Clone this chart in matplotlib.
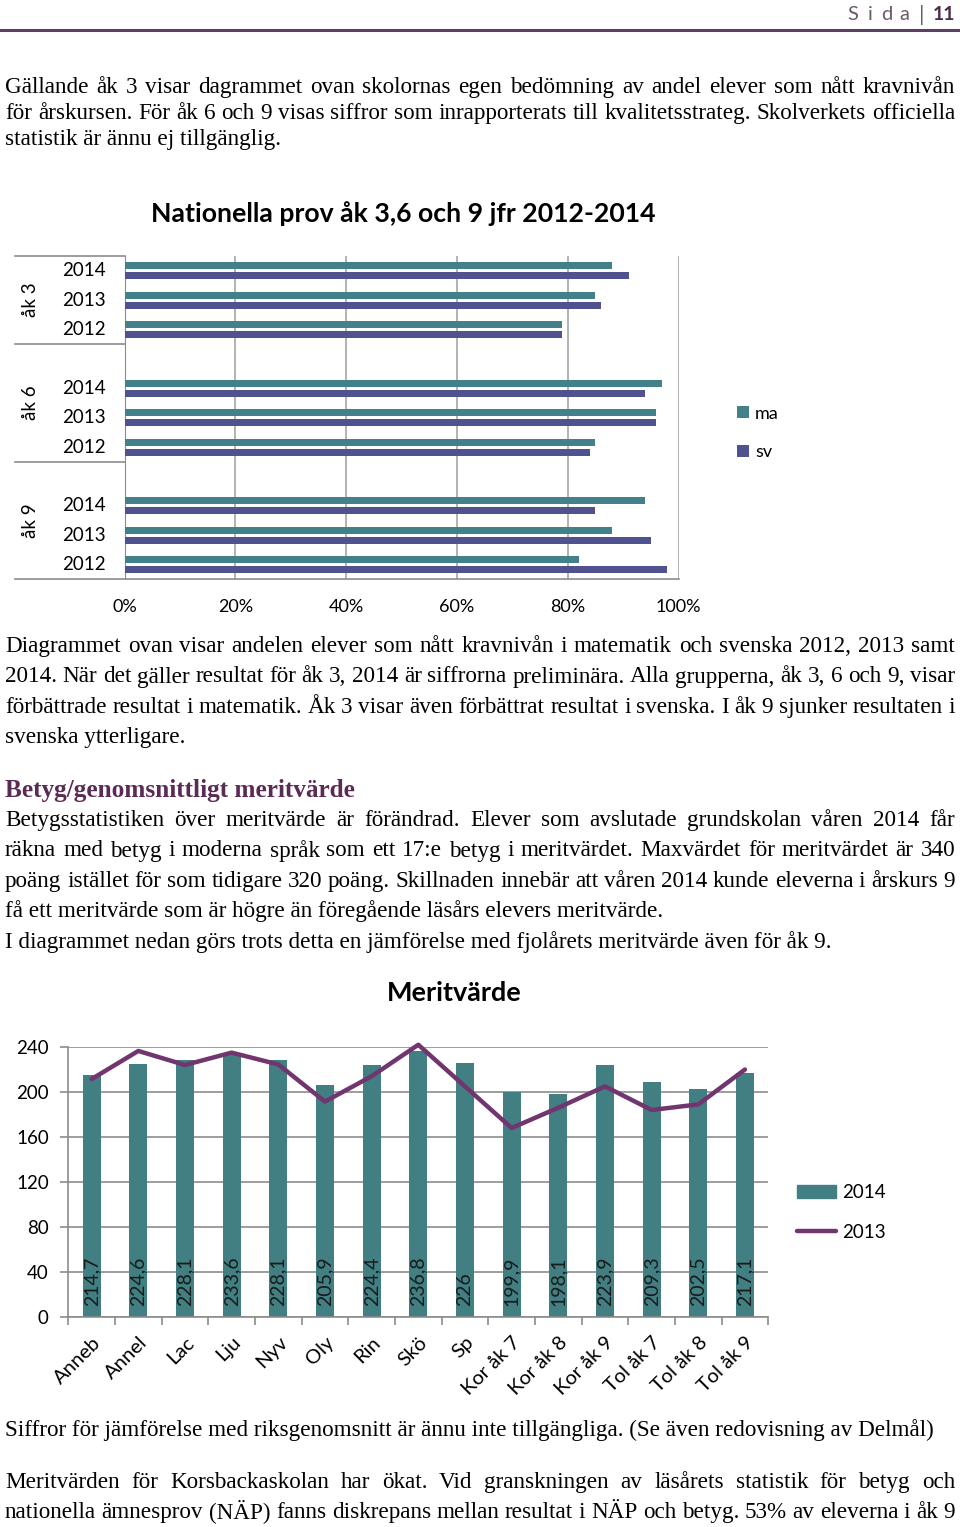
import matplotlib
matplotlib.use("Agg")
import matplotlib.pyplot as plt
import matplotlib.transforms as mtransforms
from matplotlib.patches import Patch
from matplotlib.lines import Line2D
import numpy as np

# --- data: top chart (share reaching required level, %) ---
groups = ['åk 3', 'åk 6', 'åk 9']
years = ['2014', '2013', '2012']
ma_ak3 = [88, 85, 79]
sv_ak3 = [91, 86, 79]
ma_ak6 = [97, 96, 85]
sv_ak6 = [94, 96, 84]
ma_ak9 = [94, 88, 82]
sv_ak9 = [85, 95, 98]
pct_ticks = [0, 20, 40, 60, 80, 100]

# --- data: bottom chart (meritvärde) ---
schools = ['Anneb', 'Annel', 'Lac', 'Lju', 'Nyv', 'Oly', 'Rin', 'Skö', 'Sp',
           'Kor åk 7', 'Kor åk 8', 'Kor åk 9', 'Tol åk 7', 'Tol åk 8', 'Tol åk 9']
merit_2014 = [214.7, 224.6, 228.1, 233.6, 228.1, 205.9, 224.4, 236.8, 226,
              199.9, 198.1, 223.9, 209.3, 202.5, 217.1]
merit_2013 = [211.5, 236.5, 224, 235, 224.5, 191.5, 214, 242, 205,
              168, 186, 205, 184, 189, 220]
merit_ticks = [0, 40, 80, 120, 160, 200, 240]

# --- page text ---
para1 = ["Gällande åk 3 visar dagrammet ovan skolornas egen bedömning av andel elever som nått kravnivån",
         "för årskursen. För åk 6 och 9 visas siffror som inrapporterats till kvalitetsstrateg. Skolverkets officiella",
         "statistik är ännu ej tillgänglig."]
para2 = ["Diagrammet ovan visar andelen elever som nått kravnivån i matematik och svenska 2012, 2013 samt",
         "2014. När det gäller resultat för åk 3, 2014 är siffrorna preliminära. Alla grupperna, åk 3, 6 och 9, visar",
         "förbättrade resultat i matematik. Åk 3 visar även förbättrat resultat i svenska. I åk 9 sjunker resultaten i",
         "svenska ytterligare."]
para3 = ["Betygsstatistiken över meritvärde är förändrad. Elever som avslutade grundskolan våren 2014 får",
         "räkna med betyg i moderna språk som ett 17:e betyg i meritvärdet. Maxvärdet för meritvärdet är 340",
         "poäng istället för som tidigare 320 poäng. Skillnaden innebär att våren 2014 kunde eleverna i årskurs 9",
         "få ett meritvärde som är högre än föregående läsårs elevers meritvärde.",
         "I diagrammet nedan görs trots detta en jämförelse med fjolårets meritvärde även för åk 9."]
para4 = ["Meritvärden för Korsbackaskolan har ökat. Vid granskningen av läsårets statistik för betyg och",
         "nationella ämnesprov (NÄP) fanns diskrepans mellan resultat i NÄP och betyg. 53% av eleverna i åk 9"]

teal = '#42808A'
teal2 = '#417F82'
navy = '#4F528E'
plum = '#71356F'
grid = '#A6A6A6'
sans = 'Lato'
serif = 'Liberation Serif'
body_size = 16.65

W, H = 960, 1527
fig = plt.figure(figsize=(W / 100, H / 100), dpi=100)
renderer = fig.canvas.get_renderer()


def px(x, y):
    return x / W, 1 - y / H


def line_of_text(y, s, justify=True, x0=5, x1=955, size=body_size):
    if not justify:
        fig.text(*px(x0, y), s, fontsize=size, family=serif, va='baseline', ha='left')
        return
    words = s.split(' ')
    arts = [fig.text(0, 0, w, fontsize=size, family=serif, va='baseline') for w in words]
    widths = [a.get_window_extent(renderer).width for a in arts]
    gap = (x1 - x0 - sum(widths)) / (len(words) - 1)
    x = x0
    for a, w in zip(arts, widths):
        a.set_position(px(x, y))
        x += w + gap


def fit_text(x, y, s, width, **kw):
    t = fig.text(*px(x, y), s, **kw)
    w = t.get_window_extent(renderer).width
    t.set_fontsize(t.get_fontsize() * width / w)
    return t


# header
fig.add_artist(Line2D([0, 1], [1 - 30 / H] * 2, color='#5B4060', lw=2.2))
fig.text(*px(955, 20), '11', ha='right', va='baseline', fontsize=14, family=sans,
         fontweight='bold', color='#4A2B4A')
fig.text(*px(922, 21), '|', ha='center', va='baseline', fontsize=16, family=sans, color='#6A5A6A')
for cx, ch in zip([853, 870, 887, 904], 'Sida'):
    fig.text(*px(cx, 20), ch, ha='center', va='baseline', fontsize=14.5, family=sans, color='#6A5A6A')

# body text
for i, s in enumerate(para1):
    line_of_text(93 + 26 * i, s, justify=i < 2)
for i, s in enumerate(para2):
    line_of_text(652 + 30.5 * i, s, justify=i < 3)
fit_text(5, 797, 'Betyg/genomsnittligt meritvärde', 352, family=serif, fontsize=16,
         fontweight='bold', color='#5B2A55', va='baseline')
for i, s in enumerate(para3):
    line_of_text(826 + 30.5 * i, s, justify=i < 3)
line_of_text(1436, 'Siffror för jämförelse med riksgenomsnitt är ännu inte tillgängliga. (Se även redovisning av Delmål)',
             justify=False)
for i, s in enumerate(para4):
    line_of_text(1488 + 30 * i, s)

# ---------------- top chart ----------------
fit_text(403, 213.5, 'Nationella prov åk 3,6 och 9 jfr 2012-2014', 507, family=sans, fontsize=18,
         fontweight='bold', ha='center', va='center')

ax1 = fig.add_axes([124.5 / W, 1 - 579.3 / H, 554 / W, 323.3 / H])
ma_all = [ma_ak3, ma_ak6, ma_ak9]
sv_all = [sv_ak3, sv_ak6, sv_ak9]
slots = []
ma_vals = []
sv_vals = []
for g in range(3):
    for k in range(3):
        slots.append(10 - 4 * g - k)
        ma_vals.append(ma_all[g][k])
        sv_vals.append(sv_all[g][k])
slots = np.array(slots)
ax1.barh(slots + 0.17, ma_vals, height=0.24, color=teal, zorder=3, label='ma')
ax1.barh(slots - 0.17, sv_vals, height=0.24, color=navy, zorder=3, label='sv')
ax1.set_xlim(0, 100)
ax1.set_ylim(-0.5, 10.5)
ax1.set_xticks(pct_ticks)
ax1.set_xticklabels([f'{t}%' for t in pct_ticks], fontsize=13, family=sans)
ax1.tick_params(axis='x', length=0, pad=14.5)
ax1.set_yticks([])
ax1.grid(axis='x', color=grid, lw=1.2, zorder=0)
for sp in ['top', 'right', 'bottom']:
    ax1.spines[sp].set_visible(False)
ax1.spines['left'].set_color('#8C8C8C')

bt = mtransforms.blended_transform_factory(ax1.transAxes, ax1.transData)
x_left = (15 - 124.5) / 554
for yy in [10.5, 7.5, 3.5]:
    ax1.plot([x_left, 0], [yy, yy], color='#8C8C8C', lw=1.2, transform=bt, clip_on=False)
ax1.plot([x_left, 1], [-0.5, -0.5], color='#8C8C8C', lw=1.2, transform=bt, clip_on=False)
for s, yr in zip(slots, years * 3):
    ax1.text((84 - 124.5) / 554, s, yr, transform=bt, ha='center', va='center',
             fontsize=13.5, family=sans)
for yc, g in zip([9.0, 5.5, 1.5], groups):
    ax1.text((30.5 - 124.5) / 554, yc, g, transform=bt, ha='center', va='center',
             rotation=90, fontsize=13.5, family=sans)

ax1.legend(loc='center left', bbox_to_anchor=px(737, 433), bbox_transform=fig.transFigure,
           frameon=False, prop={'family': sans, 'size': 13}, handlelength=0.65, handleheight=0.65,
           handletextpad=0.35, labelspacing=1.25, borderpad=0, borderaxespad=0)

# ---------------- bottom chart ----------------
fit_text(454, 993, 'Meritvärde', 135, family=sans, fontsize=18, fontweight='bold',
         ha='center', va='center')

ax2 = fig.add_axes([68.3 / W, 1 - 1317 / H, 700 / W, 270 / H])
x = np.arange(len(schools))
ax2.bar(x, merit_2014, width=0.385, color=teal2, zorder=2, label='2014')
ax2.plot(x, merit_2013, color=plum, lw=3.2, zorder=3, clip_on=False,
         solid_joinstyle='round', solid_capstyle='round', label='2013')
for xi, v in zip(x, merit_2014):
    ax2.text(xi, 10, f'{v:g}'.replace('.', ','), rotation=90, ha='center', va='bottom',
             fontsize=14, family=sans, color='#1A1A1A', zorder=4)
ax2.set_xlim(-0.5, len(schools) - 0.5)
ax2.set_ylim(0, 240)
ax2.set_yticks(merit_ticks)
ax2.set_yticklabels([str(t) for t in merit_ticks], fontsize=13.5, family=sans)
ax2.tick_params(axis='y', length=6, width=1.2, color='#8C8C8C', pad=8)
ax2.set_xticks(x)
ax2.set_xticklabels(schools, fontsize=14.5, family=sans, rotation=45, ha='right',
                    rotation_mode='anchor')
ax2.set_xticks(np.arange(-0.5, len(schools)), minor=True)
ax2.tick_params(axis='x', which='major', length=0, pad=12)
ax2.tick_params(axis='x', which='minor', length=6, width=1.2, color='#8C8C8C')
off = mtransforms.ScaledTranslation(0, 0, fig.dpi_scale_trans)
for lab in ax2.get_xticklabels():
    lab.set_transform(lab.get_transform() + off)
ax2.grid(axis='y', color='#8C8C8C', lw=1.2, zorder=0)
for sp in ['top', 'right']:
    ax2.spines[sp].set_visible(False)
for sp in ['left', 'bottom']:
    ax2.spines[sp].set_color('#8C8C8C')
    ax2.spines[sp].set_linewidth(1.2)

h2 = [Patch(color=teal2, label='2014'),
      Line2D([], [], color=plum, lw=3.2, solid_capstyle='round', label='2013')]
ax2.legend(handles=h2, loc='center left', bbox_to_anchor=px(797, 1212.5), bbox_transform=fig.transFigure,
           frameon=False, prop={'family': sans, 'size': 13.5}, handlelength=2.1, handleheight=0.7,
           handletextpad=0.3, labelspacing=1.2, borderpad=0, borderaxespad=0)

fig.savefig('out.png', dpi=100)
